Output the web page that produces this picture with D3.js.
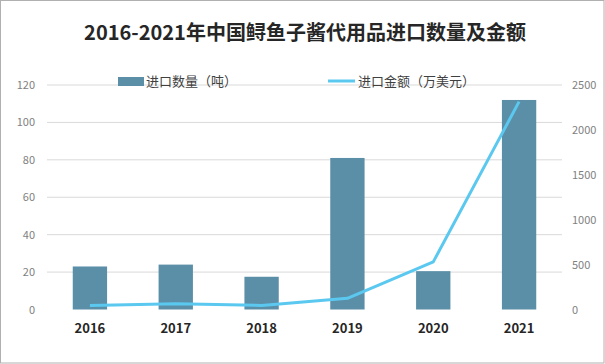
<!DOCTYPE html>
<html><head><meta charset="utf-8">
<script src="https://cdn.jsdelivr.net/npm/d3@7"></script>
<style>html,body{margin:0;padding:0;background:#fff;}svg{display:block;}</style>
</head><body>
<script>
const years = ["2016","2017","2018","2019","2020","2021"];
const quantity = [23, 24, 17.5, 81, 20.5, 112];
const amount = [45, 65, 45, 125, 530, 2315];
const leftTicks = [0,20,40,60,80,100,120];
const rightTicks = [0,500,1000,1500,2000,2500];
const title = "2016-2021年中国鲟鱼子酱代用品进口数量及金额";
const legendNames = ["进口数量（吨）","进口金额（万美元）"];

const W=605,H=364;
const svg=d3.select("body").append("svg").attr("width",W).attr("height",H);
svg.append("rect").attr("x",0.5).attr("y",0.5).attr("width",W-1.5).attr("height",H-1.5)
  .attr("fill","#fff").attr("stroke","#b0b0b0");

const font="'Noto Sans CJK SC','Noto Sans',sans-serif";
const x=d3.scaleBand().domain(years).range([47,562]).paddingInner(0.6).paddingOuter(0.3);
const yL=d3.scaleLinear().domain([0,120]).range([309.5,85]);
const yR=d3.scaleLinear().domain([0,2500]).range([309.5,85]);

// grid
svg.append("g").selectAll("line").data(leftTicks.filter(d=>d>0)).join("line")
  .attr("x1",47).attr("x2",562).attr("y1",d=>yL(d)).attr("y2",d=>yL(d))
  .attr("stroke","#d9d9d9").attr("stroke-width",1);

// left axis
const la=svg.append("g").attr("transform","translate(47,0)")
  .call(d3.axisLeft(yL).tickValues(leftTicks).tickFormat(d3.format("d")).tickSize(0).tickPadding(12));
la.select(".domain").remove();
la.selectAll("text").attr("font-family",font).attr("font-size",11).attr("fill","#7f7f7f");

// right axis
const ra=svg.append("g").attr("transform","translate(562,0)")
  .call(d3.axisRight(yR).tickValues(rightTicks).tickFormat(d3.format("d")).tickSize(0).tickPadding(10));
ra.select(".domain").remove();
ra.selectAll("text").attr("font-family",font).attr("font-size",11).attr("fill","#7f7f7f");

// bars
svg.append("g").selectAll("rect").data(years).join("rect")
  .attr("x",d=>x(d)).attr("width",x.bandwidth())
  .attr("y",(d,i)=>yL(quantity[i])).attr("height",(d,i)=>yL(0)-yL(quantity[i]))
  .attr("fill","#5b8fa8");

// line
const line=d3.line().x((d,i)=>x(years[i])+x.bandwidth()/2).y(d=>yR(d));
svg.append("path").datum(amount).attr("d",line).attr("fill","none")
  .attr("stroke","#5bc8f0").attr("stroke-width",3).attr("stroke-linejoin","round");

// x labels
const xa=svg.append("g").attr("transform","translate(0,309.5)")
  .call(d3.axisBottom(x).tickSize(0).tickPadding(14));
xa.select(".domain").remove();
xa.selectAll("text").attr("font-family",font).attr("font-size",13).attr("font-weight","bold").attr("fill","#262626");

// title
svg.append("text").attr("x",305).attr("y",40).attr("text-anchor","middle")
  .attr("font-family",font).attr("font-size",20).attr("font-weight","bold").attr("fill","#262626")
  .text(title);

// legend
const lg=svg.append("g");
lg.append("rect").attr("x",118).attr("y",77).attr("width",26).attr("height",9).attr("fill","#5b8fa8");
lg.append("text").attr("x",146).attr("y",86).attr("font-family",font).attr("font-size",13).attr("fill","#404040").text(legendNames[0]);
lg.append("line").attr("x1",328).attr("x2",355).attr("y1",81).attr("y2",81).attr("stroke","#5bc8f0").attr("stroke-width",3);
lg.append("text").attr("x",358).attr("y",86).attr("font-family",font).attr("font-size",13).attr("fill","#404040").text(legendNames[1]);
</script>
</body></html>
